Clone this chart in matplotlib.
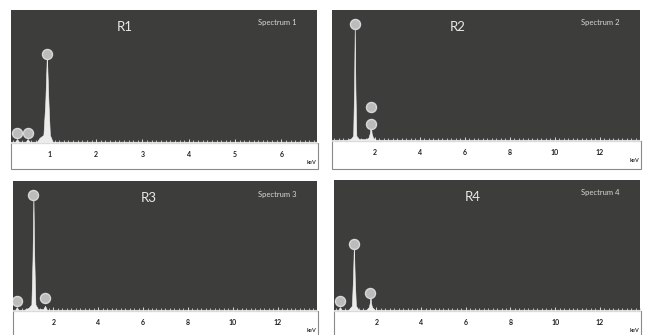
import matplotlib
matplotlib.use("Agg")
import matplotlib.pyplot as plt
from matplotlib.patches import Rectangle

plt.rcParams['font.family'] = ['Lato', 'DejaVu Sans']

W, H = 646, 335

# ---- data (energy in keV, counts in arbitrary units 0-100) ----
titles = ["R1", "R2", "R3", "R4"]
spectrum_names = ["Spectrum 1", "Spectrum 2", "Spectrum 3", "Spectrum 4"]
xlims = [(0.16, 6.77), (0.10, 13.78), (0.20, 13.76), (0.10, 13.80)]
major_ticks = [[1, 2, 3, 4, 5, 6], [2, 4, 6, 8, 10, 12], [2, 4, 6, 8, 10, 12], [2, 4, 6, 8, 10, 12]]

spec1_e = [0.16, 0.25, 0.29, 0.33, 0.48, 0.52, 0.56, 0.72, 0.78, 0.86, 0.90, 0.935, 0.97, 1.00, 1.06, 6.77]
spec1_c = [1.0, 1.0, 3.0, 1.0, 1.0, 3.0, 1.0, 1.0, 4.0, 6.0, 30.0, 67.0, 30.0, 6.0, 1.0, 1.0]
spec2_e = [0.10, 0.80, 0.95, 1.04, 1.08, 1.11, 1.14, 1.18, 1.30, 1.62, 1.72, 1.78, 1.82, 1.86, 1.92, 2.05, 13.78]
spec2_c = [1.0, 1.0, 2.0, 4.0, 40.0, 89.0, 40.0, 4.0, 1.5, 1.5, 2.5, 6.0, 13.0, 6.0, 2.5, 1.0, 1.0]
spec3_e = [0.20, 0.30, 0.37, 0.44, 0.70, 0.90, 1.02, 1.07, 1.11, 1.15, 1.20, 1.32, 1.55, 1.63, 1.71, 13.76]
spec3_c = [1.0, 1.0, 3.0, 1.0, 1.0, 2.5, 5.0, 40.0, 89.0, 40.0, 5.0, 1.5, 1.5, 4.0, 1.0, 1.0]
spec4_e = [0.10, 0.30, 0.36, 0.42, 0.75, 0.90, 0.95, 0.99, 1.03, 1.08, 1.20, 1.55, 1.66, 1.70, 1.73, 1.76, 1.80, 1.92, 13.80]
spec4_c = [1.0, 1.0, 3.0, 1.0, 1.0, 4.0, 25.0, 51.0, 25.0, 4.0, 1.0, 1.0, 3.0, 6.0, 14.0, 6.0, 3.0, 1.0, 1.0]

# peak label markers (energy, counts)
marks1_e = [0.29, 0.52, 0.935]
marks1_c = [7.5, 7.5, 67.0]
marks2_e = [1.11, 1.82, 1.82]
marks2_c = [89.0, 13.0, 26.0]
marks3_e = [0.37, 1.11, 1.63]
marks3_c = [7.7, 89.0, 10.0]
marks4_e = [0.36, 0.99, 1.73]
marks4_c = [7.4, 51.0, 14.0]

spectra = [(spec1_e, spec1_c), (spec2_e, spec2_c), (spec3_e, spec3_c), (spec4_e, spec4_c)]
marks = [(marks1_e, marks1_c), (marks2_e, marks2_c), (marks3_e, marks3_c), (marks4_e, marks4_c)]

# ---- layout in pixels: dark area (x0, x1, ytop, ybottom), strip bottom ----
boxes = [(11, 317, 10, 143, 169), (332, 640, 10, 141, 169),
         (13, 317, 181, 311, 345), (334, 640, 180, 311, 345)]
title_x = [125, 458, 149, 473]
minor_step = [0.1, 0.2, 0.2, 0.2]

BG = "#3d3d3b"
fig = plt.figure(figsize=(W / 100, H / 100), dpi=100)
fig.patch.set_facecolor("white")

for i, (x0, x1, yt, yb, ys) in enumerate(boxes):
    # white strip with grey frame (drawn beneath the axes)
    fig.patches.append(Rectangle((x0 / W, 1 - ys / H), (x1 - x0 + 1) / W, (ys - yb) / H,
                                 transform=fig.transFigure, facecolor="white",
                                 edgecolor="#8a8a8a", lw=0.8, zorder=-5))
    ax = fig.add_axes([x0 / W, 1 - yb / H, (x1 - x0) / W, (yb - yt) / H])
    ax.set_facecolor(BG)
    for s in ax.spines.values():
        s.set_visible(False)
    lo, hi = xlims[i]
    ax.set_xlim(lo, hi)
    ax.set_ylim(0, 100)
    e, c = spectra[i]
    ax.fill_between(e, 0, c, color="#ececec", lw=0.4, edgecolor="#f2f2f2", zorder=2)
    me, mc = marks[i]
    ax.scatter(me, mc, s=52, facecolor="#bcbcbc", edgecolor="#d8d8d8", lw=1.0, zorder=3)
    ax.set_yticks([])
    ax.set_xticks(major_ticks[i])
    ax.set_xticklabels([str(t) for t in major_ticks[i]], fontsize=5, color="#222222",
                       fontweight="bold")
    step = minor_step[i]
    n0 = int(lo / step) + 1
    n1 = int(hi / step)
    ax.set_xticks([k * step for k in range(n0, n1 + 1)], minor=True)
    ax.tick_params(axis="x", which="minor", direction="in", length=2, width=0.6,
                   color="#cfcfcf")
    ax.tick_params(axis="x", which="major", direction="in", length=3, width=0.7,
                   color="#d8d8d8", pad=6)
    ax.text(title_x[i] / W, 1 - (yt + 17) / H, titles[i], transform=fig.transFigure,
            ha="center", va="center", fontsize=9.5, color="#e8e8e8")
    ax.text((x1 - 40) / W, 1 - (yt + 13) / H, spectrum_names[i], transform=fig.transFigure,
            ha="center", va="center", fontsize=5.5, color="#d8d8d8")
    ax.text((x1 - 5) / W, 1 - (yb + 20) / H, "keV", transform=fig.transFigure,
            ha="center", va="center", fontsize=4, color="#333333", fontweight="bold")

fig.savefig("out.png", dpi=100, facecolor="white")
